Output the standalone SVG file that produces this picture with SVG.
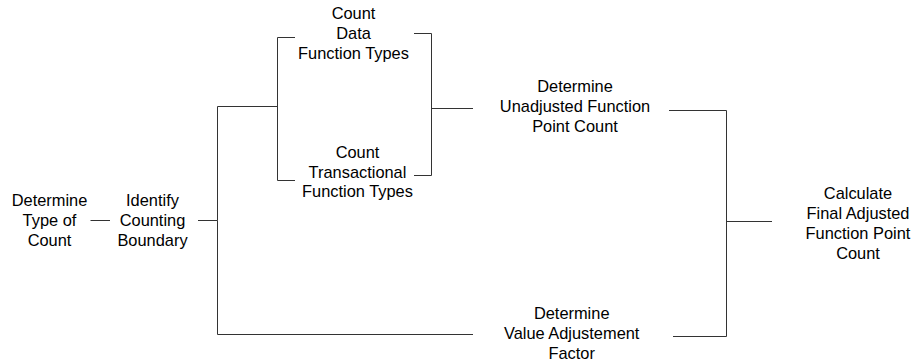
<svg xmlns="http://www.w3.org/2000/svg" width="911" height="364" viewBox="0 0 911 364">
<style>
text{font-family:"Liberation Sans",Arial,sans-serif;font-size:16.4px;fill:#000;text-anchor:middle}
.c{fill:none;stroke:#333;stroke-width:1}
</style>
<rect width="911" height="364" fill="#fff"/>
<g id="connectors">
<path class="c" d="M90.5 220.5H110"/>
<path class="c" d="M198 220.5H217.5V106.5H278M217.5 220.5V334.5H473"/>
<path class="c" d="M295 37.5H277.5V180.5H295M277.5 106.5"/>
<path class="c" d="M414 33.5H431.5V175.5H414M431.5 108.5H473"/>
<path class="c" d="M669 110.5H726.5V336.5H673M726.5 221.5H772"/>
</g>
<g id="n1"><text x="49.5" y="206">Determine</text><text x="49.5" y="225.8">Type of</text><text x="49.5" y="245.6">Count</text></g>
<g id="n2"><text x="152.5" y="206">Identify</text><text x="152.5" y="225.8">Counting</text><text x="152.5" y="245.6">Boundary</text></g>
<g id="n3"><text x="353.5" y="19">Count</text><text x="353.5" y="38.8">Data</text><text x="353.5" y="58.6">Function Types</text></g>
<g id="n4"><text x="357.5" y="157.7">Count</text><text x="357.5" y="177.5">Transactional</text><text x="357.5" y="197.3">Function Types</text></g>
<g id="n5"><text x="575" y="92.3">Determine</text><text x="575" y="112.1">Unadjusted Function</text><text x="575" y="131.9">Point Count</text></g>
<g id="n6"><text x="571.7" y="319.3">Determine</text><text x="571.7" y="339.1">Value Adjustement</text><text x="571.7" y="358.9">Factor</text></g>
<g id="n7"><text x="858" y="199.3">Calculate</text><text x="858" y="219.1">Final Adjusted</text><text x="858" y="238.9">Function Point</text><text x="858" y="258.7">Count</text></g>
</svg>
